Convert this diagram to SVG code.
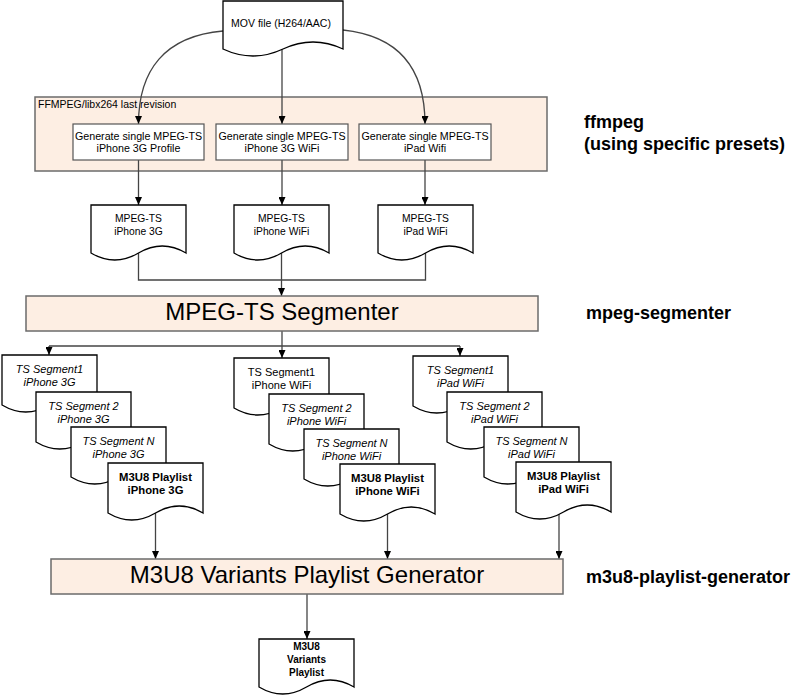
<svg xmlns="http://www.w3.org/2000/svg" width="797" height="697" viewBox="0 0 797 697">
<style>
text{font-family:"Liberation Sans",Arial,sans-serif;fill:#000}
.doc{fill:#fff;stroke:#000;stroke-width:1.3}
.box{fill:#fff;stroke:#555;stroke-width:1.2}
.band{fill:#FDEEE3;stroke:#6b6b6b;stroke-width:1.5}
.c{fill:none;stroke:#444;stroke-width:1.3}
.ca{fill:none;stroke:#444;stroke-width:1.3;marker-end:url(#ah)}
.t{font-size:10.7px;text-anchor:middle}
.m{font-size:10.3px;text-anchor:middle}
.s{font-size:11px;text-anchor:middle}
.i{font-style:italic}
.b{font-weight:bold;font-size:11.3px}
.big{font-size:24px;text-anchor:middle}
.lab{font-size:18px;font-weight:bold}
</style>
<defs>
<marker id="ah" markerUnits="userSpaceOnUse" markerWidth="8" markerHeight="7" refX="8" refY="3.5" orient="auto">
<path d="M0,0 L8,3.5 L0,7 z" fill="#000"/>
</marker>
</defs>

<g id="ffmpeg-container">
<rect class="band" x="35" y="97" width="512" height="74"/>
<text x="38" y="108" style="font-size:10.5px">FFMPEG/libx264 last revision</text>
</g>

<g id="connectors">
<path class="ca" d="M223,31 C165,36 138.5,70 138.5,124"/>
<path class="ca" d="M282,49 V124"/>
<path class="ca" d="M343,30 C400,36 425,70 425,124"/>
<path class="ca" d="M138.5,160 V205"/>
<path class="ca" d="M282,160 V205"/>
<path class="ca" d="M425,160 V205"/>
<path class="c" d="M138.5,253 V280 H425.5 V253"/>
<path class="ca" d="M281.5,253 V296"/>
<path class="c" d="M282,331 V346"/>
<path class="c" d="M49,346 H460"/>
<path class="ca" d="M49,346 V355"/>
<path class="ca" d="M282,346 V358"/>
<path class="ca" d="M460,346 V356"/>
<path class="ca" d="M155.5,513 V559"/>
<path class="ca" d="M387.5,514 V559"/>
<path class="ca" d="M559,513 V559"/>
<path class="ca" d="M307,594 V639"/>
</g>

<g id="mov">
<path class="doc" d="M223,1 H343 V49 Q313,35 283,49 T223,49 Z"/>
<text x="281" y="27" style="font-size:10.5px;text-anchor:middle">MOV file (H264/AAC)</text>
</g>

<g id="gen-3g">
<rect class="box" x="73" y="124" width="131" height="36"/>
<text class="t" x="138.5" y="140">Generate single MPEG-TS</text>
<text class="t" x="138.5" y="152">iPhone 3G Profile</text>
</g>
<g id="gen-wifi">
<rect class="box" x="216" y="124" width="132" height="36"/>
<text class="t" x="282" y="140">Generate single MPEG-TS</text>
<text class="t" x="282" y="152">iPhone 3G WiFi</text>
</g>
<g id="gen-ipad">
<rect class="box" x="359" y="124" width="132" height="36"/>
<text class="t" x="425" y="140">Generate single MPEG-TS</text>
<text class="t" x="425" y="152">iPad Wifi</text>
</g>

<g id="ts-3g">
<path class="doc" d="M91,205 H186 V253 Q162.25,239 138.5,253 T91,253 Z"/>
<text class="m" x="138.5" y="222">MPEG-TS</text>
<text class="m" x="138.5" y="235">iPhone 3G</text>
</g>
<g id="ts-wifi">
<path class="doc" d="M234,205 H329 V253 Q305.25,239 281.5,253 T234,253 Z"/>
<text class="m" x="281.5" y="222">MPEG-TS</text>
<text class="m" x="281.5" y="235">iPhone WiFi</text>
</g>
<g id="ts-ipad">
<path class="doc" d="M378,205 H473 V253 Q449.25,239 425.5,253 T378,253 Z"/>
<text class="m" x="425.5" y="222">MPEG-TS</text>
<text class="m" x="425.5" y="235">iPad WiFi</text>
</g>

<g id="segmenter">
<rect class="band" x="26" y="296" width="512" height="35"/>
<text class="big" x="282" y="320">MPEG-TS Segmenter</text>
</g>

<g id="g1-seg1">
<path class="doc" d="M2,355 H97 V405 Q73.25,391 49.5,405 T2,405 Z"/>
<text class="s i" x="49.5" y="373">TS Segment1</text>
<text class="s i" x="49.5" y="386">iPhone 3G</text>
</g>
<g id="g1-seg2">
<path class="doc" d="M36,392 H131 V442 Q107.25,428 83.5,442 T36,442 Z"/>
<text class="s i" x="83.5" y="410">TS Segment 2</text>
<text class="s i" x="83.5" y="423">iPhone 3G</text>
</g>
<g id="g1-segN">
<path class="doc" d="M71,427 H166 V477 Q142.25,463 118.5,477 T71,477 Z"/>
<text class="s i" x="118.5" y="445">TS Segment N</text>
<text class="s i" x="118.5" y="458">iPhone 3G</text>
</g>
<g id="g1-m3u8">
<path class="doc" d="M108,463 H203 V513 Q179.25,499 155.5,513 T108,513 Z"/>
<text class="s b" x="155.5" y="481">M3U8 Playlist</text>
<text class="s b" x="155.5" y="494">iPhone 3G</text>
</g>

<g id="g2-seg1">
<path class="doc" d="M234,358 H329 V408 Q305.25,394 281.5,408 T234,408 Z"/>
<text class="s" x="281.5" y="376">TS Segment1</text>
<text class="s" x="281.5" y="389">iPhone WiFi</text>
</g>
<g id="g2-seg2">
<path class="doc" d="M269,394 H364 V444 Q340.25,430 316.5,444 T269,444 Z"/>
<text class="s i" x="316.5" y="412">TS Segment 2</text>
<text class="s i" x="316.5" y="425">iPhone WiFi</text>
</g>
<g id="g2-segN">
<path class="doc" d="M304,429 H399 V479 Q375.25,465 351.5,479 T304,479 Z"/>
<text class="s i" x="351.5" y="447">TS Segment N</text>
<text class="s i" x="351.5" y="460">iPhone WiFi</text>
</g>
<g id="g2-m3u8">
<path class="doc" d="M340,464 H435 V514 Q411.25,500 387.5,514 T340,514 Z"/>
<text class="s b" x="387.5" y="482">M3U8 Playlist</text>
<text class="s b" x="387.5" y="495">iPhone WiFi</text>
</g>

<g id="g3-seg1">
<path class="doc" d="M413,356 H508 V406 Q484.25,392 460.5,406 T413,406 Z"/>
<text class="s i" x="460.5" y="374">TS Segment1</text>
<text class="s i" x="460.5" y="387">iPad WiFi</text>
</g>
<g id="g3-seg2">
<path class="doc" d="M447,392 H542 V442 Q518.25,428 494.5,442 T447,442 Z"/>
<text class="s i" x="494.5" y="410">TS Segment 2</text>
<text class="s i" x="494.5" y="423">iPad WiFi</text>
</g>
<g id="g3-segN">
<path class="doc" d="M484,427 H579 V477 Q555.25,463 531.5,477 T484,477 Z"/>
<text class="s i" x="531.5" y="445">TS Segment N</text>
<text class="s i" x="531.5" y="458">iPad WiFi</text>
</g>
<g id="g3-m3u8">
<path class="doc" d="M516,462 H611 V512 Q587.25,498 563.5,512 T516,512 Z"/>
<text class="s b" x="563.5" y="480">M3U8 Playlist</text>
<text class="s b" x="563.5" y="493">iPad WiFi</text>
</g>

<g id="generator">
<rect class="band" x="51" y="559" width="512" height="35"/>
<text class="big" x="307" y="583">M3U8 Variants Playlist Generator</text>
</g>

<g id="variants">
<path class="doc" d="M259,639 H354 V687 Q330.25,673 306.5,687 T259,687 Z"/>
<text x="306.5" y="650" style="font-size:10px;font-weight:bold;text-anchor:middle">M3U8</text>
<text x="306.5" y="663" style="font-size:10px;font-weight:bold;text-anchor:middle">Variants</text>
<text x="306.5" y="676" style="font-size:10px;font-weight:bold;text-anchor:middle">Playlist</text>
</g>

<g id="labels">
<text class="lab" x="584" y="128">ffmpeg</text>
<text class="lab" x="584" y="150">(using specific presets)</text>
<text class="lab" x="586" y="319">mpeg-segmenter</text>
<text class="lab" x="586" y="583">m3u8-playlist-generator</text>
</g>
</svg>
